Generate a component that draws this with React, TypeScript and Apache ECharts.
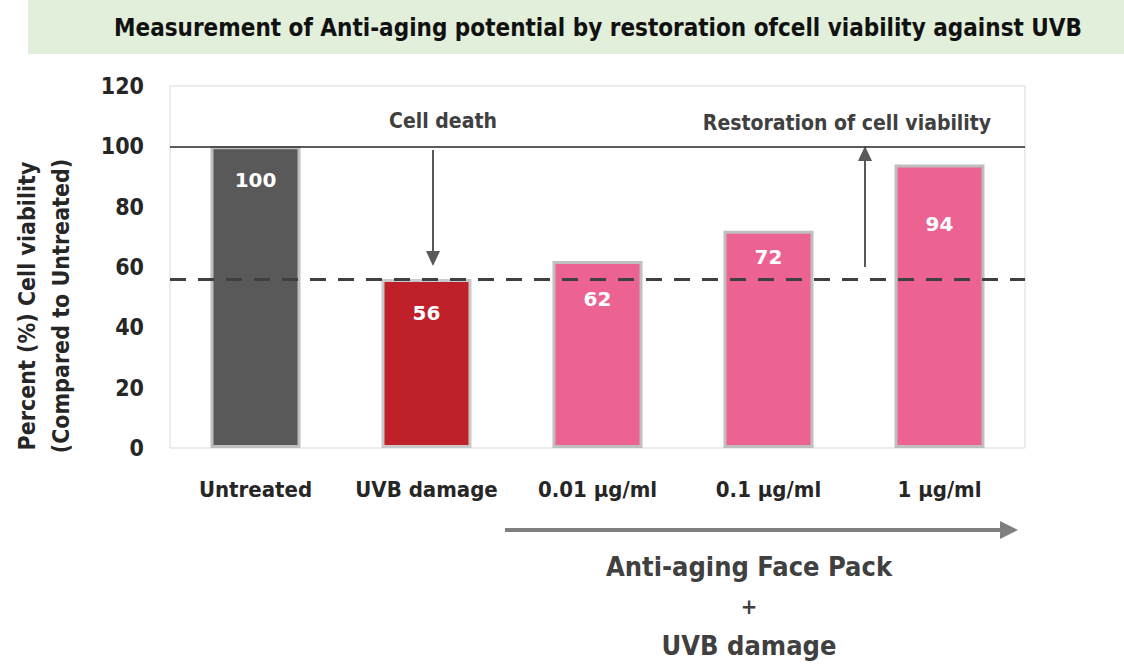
import React, { useEffect, useRef } from "react";
import * as echarts from "echarts";

const categories = ["Untreated", "UVB damage", "0.01 µg/ml", "0.1 µg/ml", "1 µg/ml"];
const viability = [100, 56, 62, 72, 94];
const barColors = ["#595959", "#C0202A", "#EC6393", "#EC6393", "#EC6393"];
const labelDistances = [24, 24, 28, 16, 50];
const yTicks = [0, 20, 40, 60, 80, 100, 120];
const referenceLevel = 100;
const uvbLevel = 56;

const FONT = "'Liberation Sans Narrow', 'DejaVu Sans Condensed', 'Open Sans', sans-serif";
const TXT = "#262626";

export default function App() {
  const ref = useRef<HTMLDivElement>(null);
  useEffect(() => {
    const chart = echarts.init(ref.current!, null, { renderer: "svg" });
    chart.setOption({
      animation: false,
      backgroundColor: "#ffffff",
      textStyle: { fontFamily: FONT },
      grid: {
        left: 170,
        top: 86,
        width: 855,
        height: 362,
        show: true,
        borderColor: "#D9D9D9",
        borderWidth: 1,
        containLabel: false,
        outerBoundsMode: "none",
      },
      xAxis: {
        type: "category",
        data: categories,
        axisLine: { show: false },
        axisTick: { show: false },
        axisLabel: { color: TXT, fontSize: 22, fontWeight: "bold", fontFamily: FONT, margin: 30, interval: 0 },
      },
      yAxis: {
        type: "value",
        min: yTicks[0],
        max: yTicks[yTicks.length - 1],
        interval: 20,
        splitLine: { show: false },
        axisLine: { show: false },
        axisTick: { show: false },
        axisLabel: { color: TXT, fontSize: 23, fontWeight: "bold", fontFamily: FONT, margin: 26 },
      },
      series: [
        {
          type: "bar",
          barWidth: 90,
          data: viability.map((v, i) => ({
            value: v,
            itemStyle: {
              color: barColors[i],
              borderColor: i === 1 ? "#C9C9C9" : "#BFBFBF",
              borderWidth: 3,
            },
            label: { distance: labelDistances[i] },
          })),
          label: {
            show: true,
            position: "insideTop",
            color: "#ffffff",
            fontSize: 20,
            fontWeight: "bold",
            fontFamily: "'DejaVu Sans', sans-serif",
          },
          markLine: {
            silent: true,
            symbol: "none",
            label: { show: false },
            data: [
              { yAxis: referenceLevel, lineStyle: { color: "#262626", width: 1.5, type: "solid" } },
              { yAxis: uvbLevel, lineStyle: { color: "#404040", width: 3, type: [16, 12] } },
            ],
          },
        },
      ],
      graphic: [
        { type: "rect", shape: { x: 28, y: 0, width: 1096, height: 54 }, style: { fill: "#E2EFDA" } },
        {
          type: "text",
          x: 598,
          y: 28,
          style: {
            text: "Measurement of Anti-aging potential by restoration ofcell viability against UVB",
            fill: "#111111",
            font: `bold 24px ${FONT}`,
            align: "center",
            verticalAlign: "middle",
          },
        },
        {
          type: "text",
          x: 27,
          y: 306,
          rotation: Math.PI / 2,
          style: {
            text: "Percent (%) Cell viability",
            fill: TXT,
            font: `bold 23px ${FONT}`,
            align: "center",
            verticalAlign: "middle",
          },
        },
        {
          type: "text",
          x: 61,
          y: 306,
          rotation: Math.PI / 2,
          style: {
            text: "(Compared to Untreated)",
            fill: TXT,
            font: `bold 23px ${FONT}`,
            align: "center",
            verticalAlign: "middle",
          },
        },
        {
          type: "text",
          x: 443,
          y: 121,
          style: { text: "Cell death", fill: "#404040", font: `bold 21px ${FONT}`, align: "center", verticalAlign: "middle" },
        },
        { type: "line", shape: { x1: 433, y1: 150, x2: 433, y2: 254 }, style: { stroke: "#595959", lineWidth: 2 } },
        { type: "polygon", shape: { points: [[426, 251], [440, 251], [433, 266]] }, style: { fill: "#595959" } },
        {
          type: "text",
          x: 847,
          y: 123,
          style: { text: "Restoration of cell viability", fill: "#404040", font: `bold 21px ${FONT}`, align: "center", verticalAlign: "middle" },
        },
        { type: "line", shape: { x1: 865, y1: 267, x2: 865, y2: 158 }, style: { stroke: "#595959", lineWidth: 2 } },
        { type: "polygon", shape: { points: [[858, 161], [872, 161], [865, 146]] }, style: { fill: "#595959" } },
        { type: "line", shape: { x1: 505, y1: 530, x2: 1003, y2: 530 }, style: { stroke: "#7F7F7F", lineWidth: 4 } },
        { type: "polygon", shape: { points: [[1000, 521], [1000, 539], [1018, 530]] }, style: { fill: "#7F7F7F" } },
        {
          type: "text",
          x: 749,
          y: 566,
          style: { text: "Anti-aging Face Pack", fill: "#404040", font: `bold 27px ${FONT}`, align: "center", verticalAlign: "middle" },
        },
        {
          type: "text",
          x: 749,
          y: 606,
          style: { text: "+", fill: "#404040", font: `bold 22px ${FONT}`, align: "center", verticalAlign: "middle" },
        },
        {
          type: "text",
          x: 749,
          y: 645,
          style: { text: "UVB damage", fill: "#404040", font: `bold 27px ${FONT}`, align: "center", verticalAlign: "middle" },
        },
      ],
    });
    return () => chart.dispose();
  }, []);
  return <div ref={ref} style={{ position: "fixed", left: 0, top: 0, width: 1124, height: 664 }} />;
}
